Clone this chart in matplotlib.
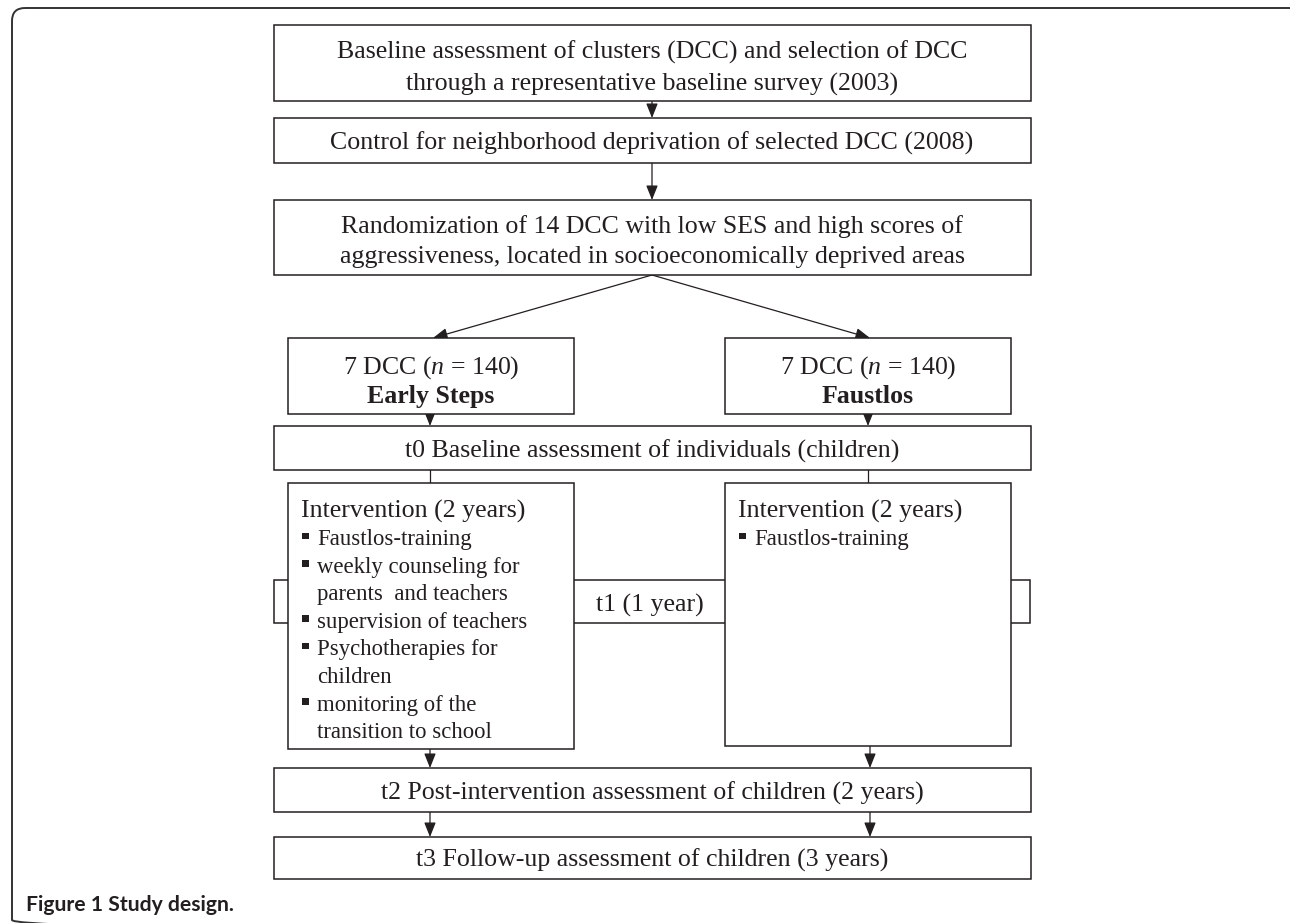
import matplotlib
matplotlib.use("Agg")
import matplotlib.pyplot as plt
from matplotlib.patches import Rectangle, FancyBboxPatch

plt.rcParams['mathtext.fontset'] = 'custom'
plt.rcParams['mathtext.rm'] = 'Liberation Serif'
plt.rcParams['mathtext.it'] = 'Liberation Serif:italic'

# text content of the flow chart
top_steps = [
    ["Baseline assessment of clusters (DCC) and selection of DCC",
     "through a representative baseline survey (2003)"],
    ["Control for neighborhood deprivation of selected DCC (2008)"],
    ["Randomization of 14 DCC with low SES and high scores of",
     "aggressiveness, located in socioeconomically deprived areas"],
]
arm_sizes = ["7 DCC ($n$ = 140)", "7 DCC ($n$ = 140)"]
arm_names = ["Early Steps", "Faustlos"]
t0_label = "t0 Baseline assessment of individuals (children)"
t1_label = "t1 (1 year)"
t2_label = "t2 Post-intervention assessment of children (2 years)"
t3_label = "t3 Follow-up assessment of children (3 years)"
interv_title = "Intervention (2 years)"
es_items = ["Faustlos-training",
            "weekly counseling for\nparents  and teachers",
            "supervision of teachers",
            "Psychotherapies for\nchildren",
            "monitoring of the\ntransition to school"]
fl_items = ["Faustlos-training"]
caption = "Figure 1 Study design."

INK = '#231f20'
SERIF = 'Liberation Serif'
BIG = 18.6
SMALL = 16.4
LW = 1.1

fig = plt.figure(figsize=(12.9, 9.23), dpi=100)
ax = fig.add_axes([0, 0, 1, 1])
ax.set_xlim(0, 1290)
ax.set_ylim(923, 0)
ax.axis('off')

# outer rounded frame
ax.add_patch(FancyBboxPatch((12, 8), 1290, 925, boxstyle="round,pad=0,rounding_size=13",
                            fill=False, ec='#333333', lw=1.4, clip_on=True))


def box(x0, x1, y0, y1, zorder=2):
    ax.add_patch(Rectangle((x0, y0), x1 - x0, y1 - y0, fc='white', ec=INK,
                           lw=LW, zorder=zorder))


def arrow(x, y0, y1, x0=None):
    if x0 is None:
        x0 = x
    ax.annotate('', xy=(x, y1), xytext=(x0, y0),
                arrowprops=dict(arrowstyle='-|>,head_length=0.55,head_width=0.22',
                                color=INK, lw=0.9, shrinkA=0, shrinkB=0,
                                mutation_scale=16), zorder=1)


def line(x, y0, y1):
    ax.plot([x, x], [y0, y1], color=INK, lw=0.9, zorder=1)


def centered(lines, cx, ys, size=BIG, weight='normal'):
    for s, y in zip(lines, ys):
        ax.text(cx, y, s, ha='center', va='center_baseline', fontsize=size,
                family=SERIF, color=INK, fontweight=weight, zorder=5)


L, R, CX = 274, 1031, 652
LC, RC = 430, 869

# top chain of boxes
box(L, R, 25, 101)
centered(top_steps[0], CX, [50, 82])
arrow(CX, 101, 118)
box(L, R, 118, 163)
centered(top_steps[1], CX, [141])
arrow(CX, 163, 200)
box(L, R, 200, 275)
centered(top_steps[2], CX, [224, 255])

# split into two arms
arrow(LC + 3, 275, 338, x0=CX)
arrow(RC + 1, 275, 338, x0=CX)
arms = [(288, 574), (725, 1011)]
for (x0, x1), size, name in zip(arms, arm_sizes, arm_names):
    box(x0, x1, 338, 414)
    cx = (x0 + x1) / 2
    centered([size], cx, [364])
    centered([name], cx, [394], weight='bold')

arrow(LC, 414, 426)
arrow(RC - 1, 414, 426)
box(L, R, 426, 470)
centered([t0_label], CX, [449])
line(LC, 470, 483)
line(RC - 1, 470, 483)

# t1 box sits behind the intervention boxes
box(L, R - 1, 580, 623, zorder=1)
centered([t1_label], 650, [603])

bottoms = [749, 746]
STEP = 27.6
for (x0, x1), items, yb in zip(arms, [es_items, fl_items], bottoms):
    box(x0, x1, 483, yb, zorder=3)
    ax.text(x0 + 13, 509, interv_title, ha='left', va='center_baseline',
            fontsize=BIG, family=SERIF, color=INK, zorder=5)
    y = 537
    for item in items:
        ax.add_patch(Rectangle((x0 + 14, y - 4.5), 6.5, 6.5, fc=INK, ec='none', zorder=5))
        for part in item.split('\n'):
            ax.text(x0 + 29, y, part, ha='left', va='center_baseline',
                    fontsize=SMALL, family=SERIF, color=INK, zorder=5)
            y += STEP

arrow(LC, bottoms[0], 768)
arrow(RC + 1, bottoms[1], 768)
box(L, R, 768, 812)
centered([t2_label], CX, [791])
arrow(LC, 812, 837)
arrow(RC + 1, 812, 837)
box(L, R, 837, 879)
centered([t3_label], CX, [858])

ax.text(26, 911, caption, ha='left', va='baseline', fontsize=15.2,
        family='Lato', fontweight='bold', color=INK)

fig.savefig('out.png', dpi=100)
